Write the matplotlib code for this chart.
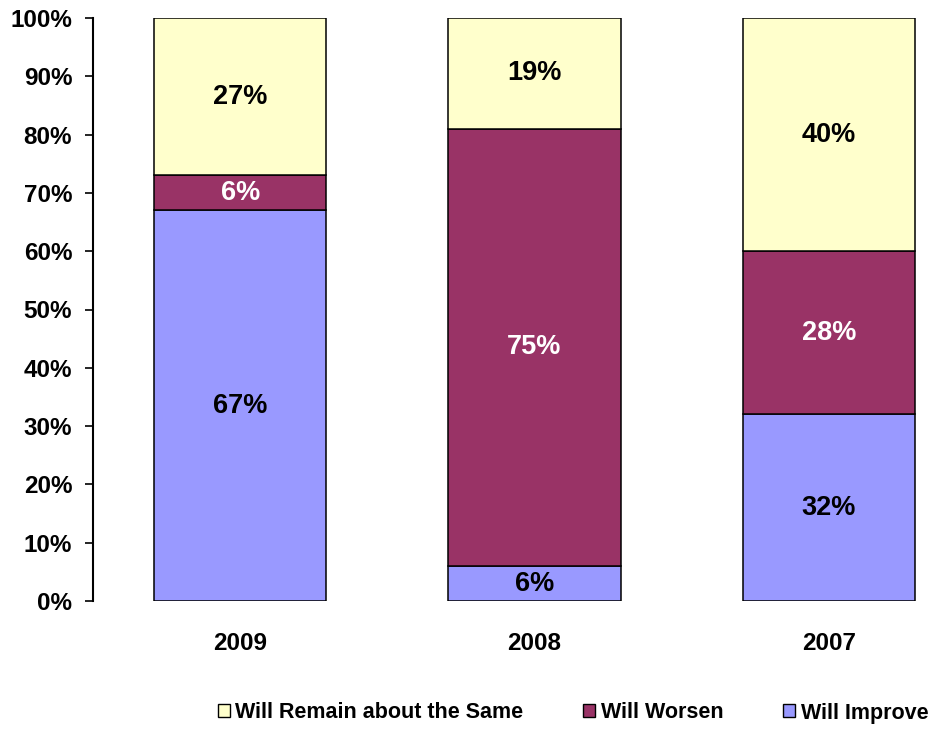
import matplotlib
matplotlib.use("Agg")
import matplotlib.pyplot as plt
from matplotlib.patches import Patch
import numpy as np

categories = ["2009", "2008", "2007"]
improve = [67, 6, 32]
worsen = [6, 75, 28]
same = [27, 19, 40]
series_names = ["Will Improve", "Will Worsen", "Will Remain about the Same"]
colors = ["#9999FF", "#993366", "#FFFFCC"]
label_colors = ["black", "white", "black"]
yticks = [0, 10, 20, 30, 40, 50, 60, 70, 80, 90, 100]

plt.rcParams['font.family'] = ['Liberation Sans', 'DejaVu Sans']
plt.rcParams['font.weight'] = 'bold'

fig = plt.figure(figsize=(9.35, 7.29), dpi=100)
ax = fig.add_axes([93/935, 1-601/729, (976-93)/935, (601-18)/729])

x = np.arange(len(categories))
width = 0.585
bottom = np.zeros(len(categories))
for vals, name, col, lc in zip([improve, worsen, same], series_names, colors, label_colors):
    ax.bar(x, vals, width, bottom=bottom, color=col, edgecolor='black', linewidth=1.1, label=name)
    for xi, v, b in zip(x, vals, bottom):
        ax.text(xi, b + v/2, f"{v}%", ha='center', va='center', fontsize=19.5, fontweight='bold', color=lc)
    bottom += np.array(vals)

ax.set_xlim(-0.5, 2.5)
ax.set_ylim(0, 100)
ax.set_yticks(yticks)
ax.set_yticklabels([f"{t}%" for t in yticks], fontsize=17.5, fontweight='bold')
ax.set_xticks(x)
ax.set_xticklabels(categories, fontsize=17.5, fontweight='bold')
ax.tick_params(axis='x', length=0, pad=22)
ax.tick_params(axis='y', length=6, width=1.2, direction='out', pad=9)
for s in ['top', 'right', 'bottom']:
    ax.spines[s].set_visible(False)
ax.spines['left'].set_linewidth(1.5)

handles = [Patch(facecolor=colors[i], edgecolor='black', linewidth=1.0) for i in [2, 1, 0]]
labels = [series_names[i] for i in [2, 1, 0]]
fig.legend(handles, labels, loc='center', bbox_to_anchor=(573/935, 1-713/729), ncol=3,
           frameon=False, handlelength=0.55, handleheight=0.55, handletextpad=0.25,
           columnspacing=2.8, prop={'weight': 'bold', 'size': 15.5})

fig.savefig("out.png", dpi=100)
